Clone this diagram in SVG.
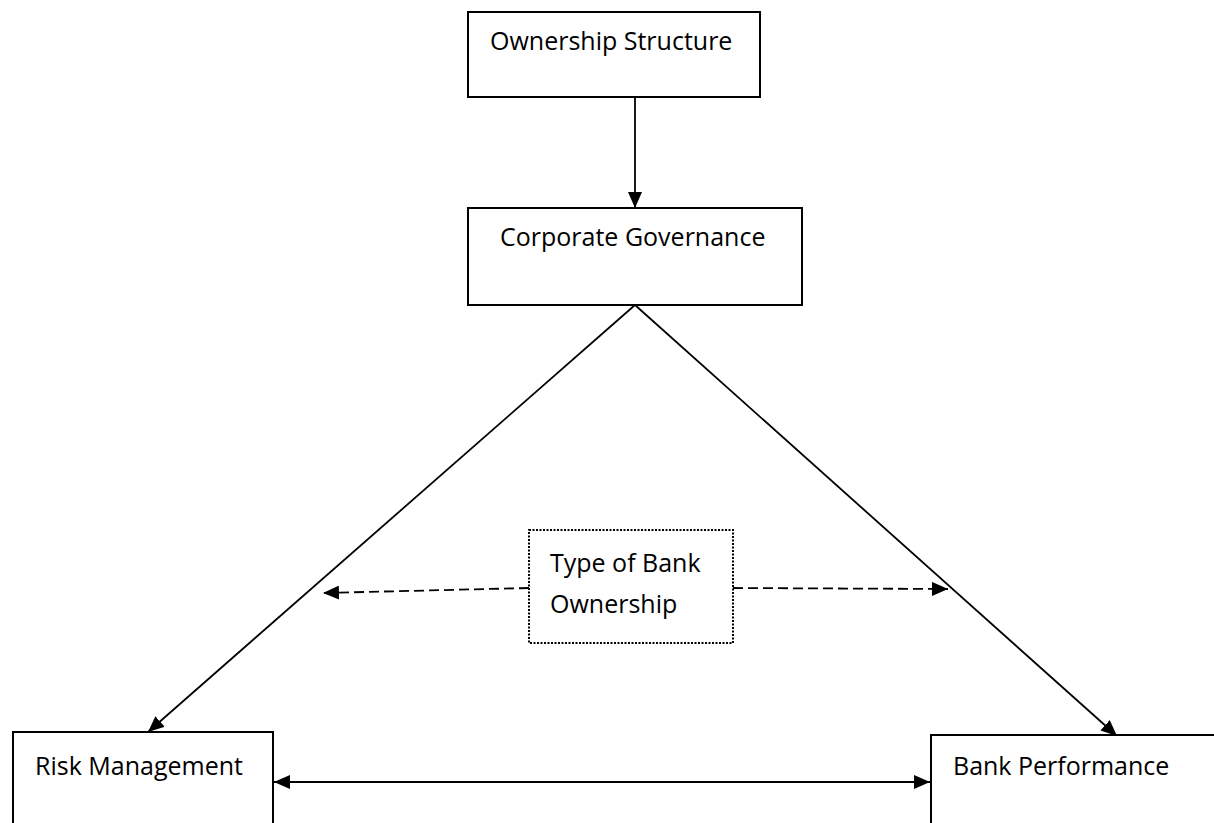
<svg xmlns="http://www.w3.org/2000/svg" width="1214" height="823" viewBox="0 0 1214 823">
  <style>
    .box { fill: #ffffff; stroke: #000000; stroke-width: 2; }
    .dotted { fill: #ffffff; stroke: #000000; stroke-width: 2; stroke-dasharray: 2 1.5; }
    .lbl { font-family: "Open Sans", "Liberation Sans", sans-serif; font-size: 25px; fill: #000000; }
    .line { fill: none; stroke: #000000; stroke-width: 1.8; }
    .dash { fill: none; stroke: #000000; stroke-width: 1.8; stroke-dasharray: 10 5; }
  </style>
  <defs>
    <marker id="arrowL" viewBox="0 0 16 14" refX="16" refY="7" markerWidth="16" markerHeight="14" markerUnits="userSpaceOnUse" orient="auto-start-reverse">
      <path d="M0,0 L16,7 L0,14 Z" fill="#000000"/>
    </marker>
  </defs>

  <!-- connectors -->
  <g id="connectors">
    <line class="line" x1="635" y1="97" x2="635" y2="208" marker-end="url(#arrowL)"/>
    <line class="line" x1="635" y1="305" x2="148" y2="732" marker-end="url(#arrowL)"/>
    <line class="line" x1="635" y1="305" x2="1117" y2="736" marker-end="url(#arrowL)"/>
    <line class="dash" x1="529" y1="588" x2="323" y2="593" marker-end="url(#arrowL)"/>
    <line class="dash" x1="733" y1="588" x2="948" y2="589" marker-end="url(#arrowL)"/>
    <line class="line" x1="274" y1="782" x2="930" y2="782" marker-start="url(#arrowL)" marker-end="url(#arrowL)"/>
  </g>

  <g id="ownership-structure">
    <rect class="box" x="468" y="12" width="292" height="85"/>
    <text class="lbl" x="490" y="50">Ownership Structure</text>
  </g>

  <g id="corporate-governance">
    <rect class="box" x="468" y="208" width="334" height="97"/>
    <text class="lbl" x="500" y="246">Corporate Governance</text>
  </g>

  <g id="type-of-bank-ownership">
    <rect class="dotted" x="529" y="530" width="204" height="113"/>
    <text class="lbl" x="550" y="572">Type of Bank</text>
    <text class="lbl" x="550" y="613">Ownership</text>
  </g>

  <g id="risk-management">
    <rect class="box" x="13" y="732" width="260" height="110"/>
    <text class="lbl" x="35" y="775">Risk Management</text>
  </g>

  <g id="bank-performance">
    <rect class="box" x="931" y="735" width="300" height="110"/>
    <text class="lbl" x="953" y="775">Bank Performance</text>
  </g>
</svg>
